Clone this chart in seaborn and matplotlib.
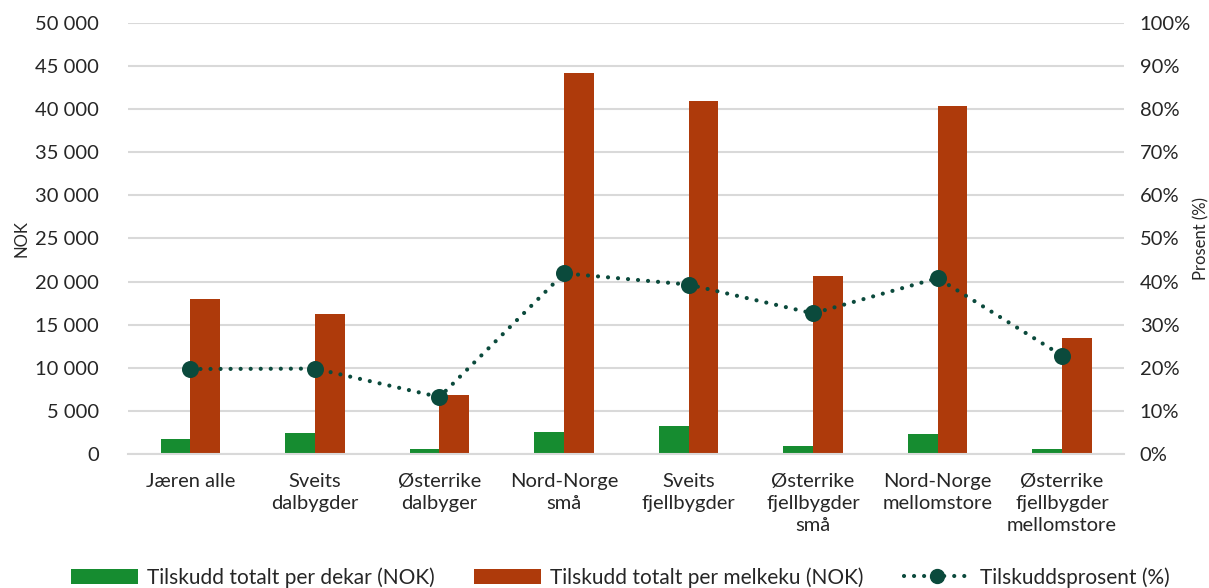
import matplotlib
matplotlib.use("Agg")
import matplotlib.pyplot as plt
from matplotlib.ticker import FuncFormatter, MultipleLocator
from matplotlib.lines import Line2D
from matplotlib.patches import Patch
import seaborn as sns
import pandas as pd

categories = [
    "Jæren alle",
    "Sveits\ndalbygder",
    "Østerrike\ndalbyger",
    "Nord-Norge\nsmå",
    "Sveits\nfjellbygder",
    "Østerrike\nfjellbygder\nsmå",
    "Nord-Norge\nmellomstore",
    "Østerrike\nfjellbygder\nmellomstore",
]
per_dekar = [1700, 2450, 600, 2600, 3250, 930, 2300, 600]
per_melkeku = [18000, 16200, 6800, 44200, 41000, 20600, 40400, 13400]
prosent = [19.7, 19.8, 13.2, 41.9, 39.3, 32.6, 40.8, 22.8]

label_dekar = "Tilskudd totalt per dekar (NOK)"
label_ku = "Tilskudd totalt per melkeku (NOK)"
label_pct = "Tilskuddsprosent (%)"

GREEN = "#168C30"
RED = "#AE3A0B"
DARK = "#0B4A3C"
GRID = "#D9D9D9"
TEXT = "#262626"

sns.set_theme(style="white")
plt.rcParams["font.family"] = ["Lato", "DejaVu Sans"]
plt.rcParams["text.color"] = TEXT
plt.rcParams["axes.labelcolor"] = TEXT
plt.rcParams["xtick.color"] = TEXT
plt.rcParams["ytick.color"] = TEXT

bars = pd.DataFrame({
    "kategori": categories * 2,
    "verdi": per_dekar + per_melkeku,
    "serie": [label_dekar] * len(categories) + [label_ku] * len(categories),
})
line = pd.DataFrame({"kategori": categories, "prosent": prosent})

fig = plt.figure(figsize=(12.09, 5.88), dpi=100)
ax = fig.add_axes([0.106, 0.228, 0.824, 0.733])

sns.barplot(data=bars, x="kategori", y="verdi", hue="serie",
            palette=[GREEN, RED], width=0.48, gap=0, saturation=1,
            order=categories, ax=ax, legend=False, zorder=2,
            linewidth=0, edgecolor="none")

ax.set_ylim(0, 50000)
ax.yaxis.set_major_locator(MultipleLocator(5000))
ax.yaxis.set_major_formatter(FuncFormatter(lambda v, p: f"{int(v):,}".replace(",", " ")))
ax.grid(axis="y", color=GRID, linewidth=1.5, zorder=0)
ax.set_axisbelow(True)
for s in ["top", "left", "right"]:
    ax.spines[s].set_visible(False)
ax.spines["bottom"].set_color(GRID)
ax.spines["bottom"].set_linewidth(1.5)
ax.tick_params(axis="y", length=0, pad=21, labelsize=14.5)
ax.tick_params(axis="x", length=0, pad=14, labelsize=14.5)
for t in ax.get_xticklabels():
    t.set_linespacing(1.35)
ax.set_xlabel("")
ax.set_ylabel("NOK", fontsize=12, labelpad=4)
ax.set_xlim(-0.5, len(categories) - 0.5)

ax2 = ax.twinx()
sns.pointplot(data=line, x="kategori", y="prosent", order=categories,
              color=DARK, markers="o", linestyles=":", ax=ax2,
              markersize=10, linewidth=3)
for ln in ax2.lines:
    ln.set_dashes([0.01, 2.4])
    ln.set_dash_capstyle("round")
ax2.set_ylim(0, 100)
ax2.set_xlim(-0.5, len(categories) - 0.5)
ax2.yaxis.set_major_locator(MultipleLocator(10))
ax2.yaxis.set_major_formatter(FuncFormatter(lambda v, p: f"{int(v)}%"))
ax2.tick_params(axis="y", length=0, pad=11, labelsize=14.5)
for s in ["top", "left", "right", "bottom"]:
    ax2.spines[s].set_visible(False)
ax2.set_ylabel("Prosent (%)", fontsize=12, labelpad=2)
ax2.set_xlabel("")

handles = [
    Patch(facecolor=GREEN, edgecolor="none", label=label_dekar),
    Patch(facecolor=RED, edgecolor="none", label=label_ku),
    Line2D([], [], color=DARK, linestyle=(0, (0.01, 2.4)), linewidth=3,
           dash_capstyle="round", marker="o", markersize=10,
           label=label_pct),
]
fig.legend(handles=handles, loc="center", bbox_to_anchor=(0.513, 0.018),
           ncol=3, frameon=False, fontsize=15, handlelength=3.2,
           handleheight=0.7, columnspacing=1.9, handletextpad=0.45)

fig.savefig("out.png", dpi=100)
